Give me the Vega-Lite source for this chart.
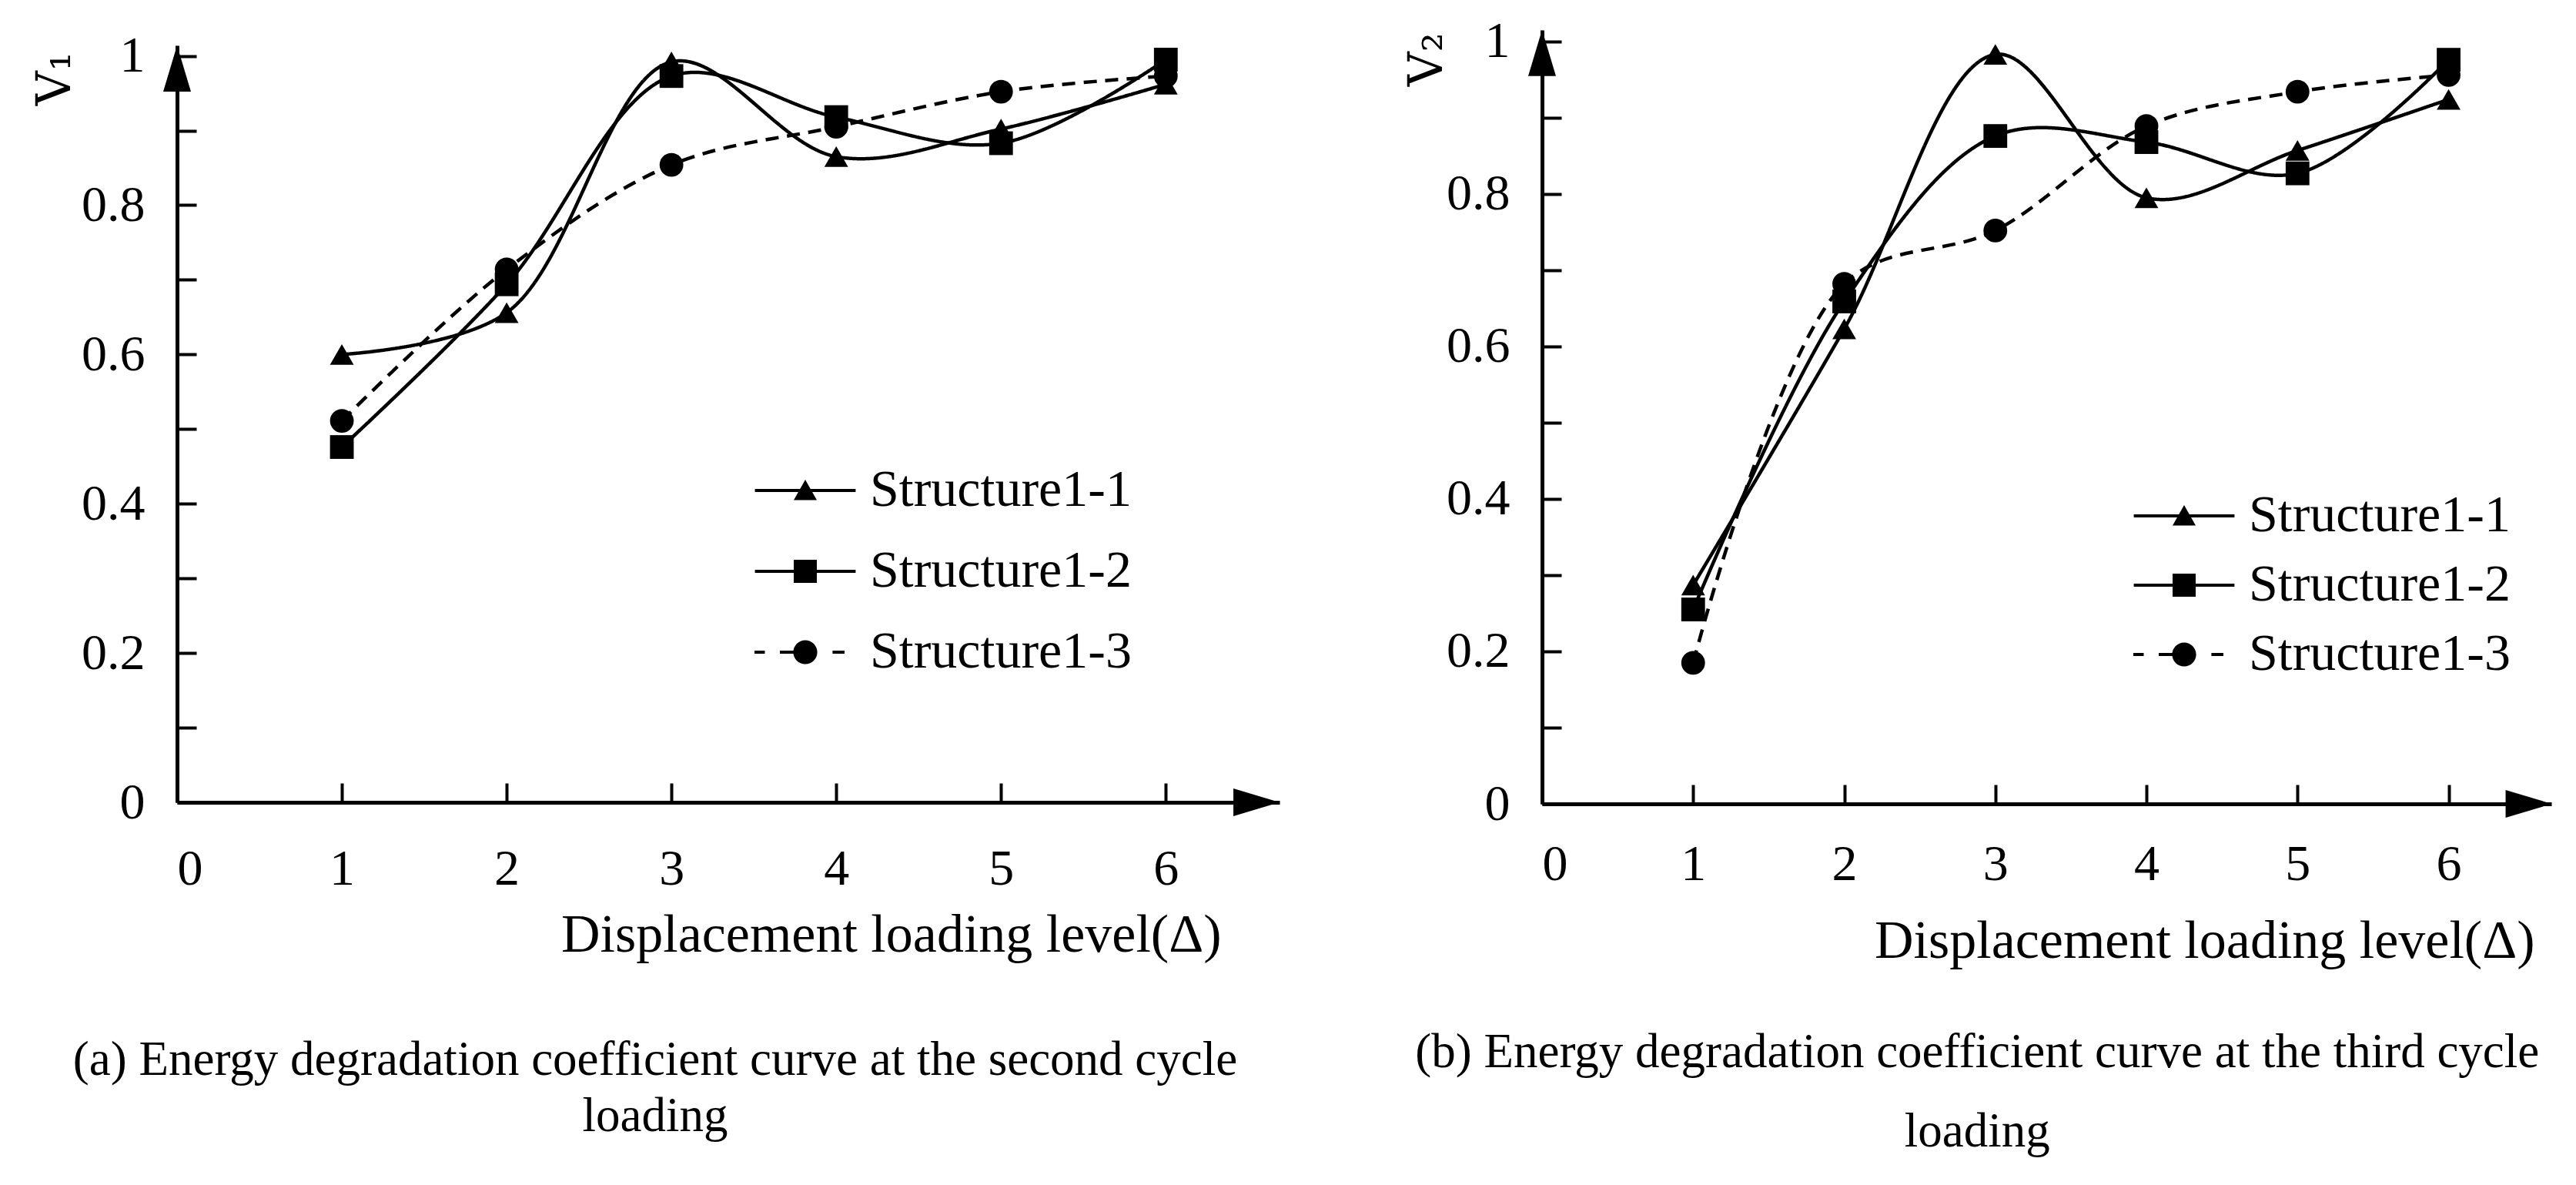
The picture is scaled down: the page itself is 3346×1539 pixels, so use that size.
{
  "$schema": "https://vega.github.io/schema/vega-lite/v6.json",
  "description": "Energy degradation coefficient curves, second and third cycle loading",
  "background": "white",
  "padding": {"left": 40, "top": 20, "right": 10, "bottom": 10},
  "spacing": 159,
  "center": true,
  "config": {
    "font": "Liberation Serif",
    "view": {"stroke": null},
    "axis": {
      "grid": false,
      "domainColor": "black",
      "domainWidth": 5,
      "tickColor": "black",
      "tickWidth": 4,
      "tickSize": -25,
      "labelFont": "Liberation Serif",
      "labelFontSize": 66,
      "labelColor": "black",
      "titleFont": "Liberation Serif",
      "titleFontWeight": "normal",
      "titleColor": "black"
    },
    "axisX": {
      "labelAngle": 0,
      "labelBaseline": "middle",
      "labelPadding": 111,
      "titleFontSize": 70,
      "titleAlign": "right",
      "titleBaseline": "middle"
    },
    "axisY": {
      "labelBaseline": "middle",
      "labelAlign": "right",
      "labelPadding": 67,
      "titleFont": "DejaVu Serif",
      "titleFontSize": 62,
      "titleAngle": -90,
      "titleAlign": "right",
      "titleBaseline": "alphabetic"
    },
    "legend": {
      "title": null,
      "orient": "none",
      "padding": 0,
      "labelFont": "Liberation Serif",
      "labelFontSize": 68,
      "labelColor": "black",
      "labelLimit": 0,
      "labelOffset": 50,
      "symbolSize": 3600,
      "symbolFillColor": "black"
    },
    "title": {
      "font": "Liberation Serif",
      "fontSize": 63,
      "fontWeight": "normal",
      "color": "black",
      "orient": "bottom",
      "anchor": "middle",
      "frame": "bounds"
    }
  },
  "datasets": {
    "second": [
      {"level": 1, "V": 0.600, "structure": "Structure1-1"},
      {"level": 2, "V": 0.656, "structure": "Structure1-1"},
      {"level": 3, "V": 0.992, "structure": "Structure1-1"},
      {"level": 4, "V": 0.865, "structure": "Structure1-1"},
      {"level": 5, "V": 0.902, "structure": "Structure1-1"},
      {"level": 6, "V": 0.962, "structure": "Structure1-1"},
      {"level": 1, "V": 0.476, "structure": "Structure1-2"},
      {"level": 2, "V": 0.694, "structure": "Structure1-2"},
      {"level": 3, "V": 0.973, "structure": "Structure1-2"},
      {"level": 4, "V": 0.918, "structure": "Structure1-2"},
      {"level": 5, "V": 0.883, "structure": "Structure1-2"},
      {"level": 6, "V": 0.995, "structure": "Structure1-2"},
      {"level": 1, "V": 0.511, "structure": "Structure1-3"},
      {"level": 2, "V": 0.714, "structure": "Structure1-3"},
      {"level": 3, "V": 0.854, "structure": "Structure1-3"},
      {"level": 4, "V": 0.905, "structure": "Structure1-3"},
      {"level": 5, "V": 0.952, "structure": "Structure1-3"},
      {"level": 6, "V": 0.973, "structure": "Structure1-3"}
    ],
    "third": [
      {"level": 1, "V": 0.287, "structure": "Structure1-1"},
      {"level": 2, "V": 0.623, "structure": "Structure1-1"},
      {"level": 3, "V": 0.983, "structure": "Structure1-1"},
      {"level": 4, "V": 0.795, "structure": "Structure1-1"},
      {"level": 5, "V": 0.857, "structure": "Structure1-1"},
      {"level": 6, "V": 0.924, "structure": "Structure1-1"},
      {"level": 1, "V": 0.255, "structure": "Structure1-2"},
      {"level": 2, "V": 0.659, "structure": "Structure1-2"},
      {"level": 3, "V": 0.876, "structure": "Structure1-2"},
      {"level": 4, "V": 0.868, "structure": "Structure1-2"},
      {"level": 5, "V": 0.827, "structure": "Structure1-2"},
      {"level": 6, "V": 0.976, "structure": "Structure1-2"},
      {"level": 1, "V": 0.185, "structure": "Structure1-3"},
      {"level": 2, "V": 0.682, "structure": "Structure1-3"},
      {"level": 3, "V": 0.752, "structure": "Structure1-3"},
      {"level": 4, "V": 0.889, "structure": "Structure1-3"},
      {"level": 5, "V": 0.934, "structure": "Structure1-3"},
      {"level": 6, "V": 0.956, "structure": "Structure1-3"}
    ],
    "arrowsA": [
      {"level": 0, "V": 0.983, "dir": "up"},
      {"level": 6.55, "V": 0, "dir": "right"}
    ],
    "arrowsB": [
      {"level": 0, "V": 0.985, "dir": "up"},
      {"level": 6.53, "V": 0, "dir": "right"}
    ]
  },
  "hconcat": [
    {
      "width": 1432,
      "height": 983,
      "title": {
        "text": ["(a) Energy degradation coefficient curve at the second cycle", "loading"],
        "lineHeight": 73,
        "offset": 97
      },
      "encoding": {
        "x": {
          "field": "level",
          "type": "quantitative",
          "scale": {"domain": [0, 6.69], "nice": false, "zero": false},
          "axis": {
            "values": [0, 1, 2, 3, 4, 5, 6],
            "title": "Displacement loading level(Δ)",
            "titleX": 1356,
            "titleY": 172
          }
        },
        "y": {
          "field": "V",
          "type": "quantitative",
          "scale": {"domain": [0, 1.014], "nice": false, "zero": false},
          "axis": {
            "values": [0, 0.1, 0.2, 0.3, 0.4, 0.5, 0.6, 0.7, 0.8, 0.9, 1],
            "labelExpr": "round(datum.value * 10) % 2 == 0 ? toString(round(datum.value * 10) / 10) : ''",
            "title": "V₁",
            "titleX": -140,
            "titleY": 8
          }
        }
      },
      "layer": [
        {
          "data": {"name": "second"},
          "mark": {"type": "line", "interpolate": "catmull-rom", "color": "black", "strokeWidth": 4.5},
          "encoding": {
            "strokeDash": {
              "field": "structure",
              "type": "nominal",
              "scale": {"domain": ["Structure1-1", "Structure1-2", "Structure1-3"], "range": [[1, 0], [1, 0], [17, 11]]},
              "legend": null
            }
          }
        },
        {
          "data": {"name": "second"},
          "mark": {"type": "point", "filled": true, "color": "black", "opacity": 1, "size": 950},
          "encoding": {
            "shape": {
              "field": "structure",
              "type": "nominal",
              "scale": {"domain": ["Structure1-1", "Structure1-2", "Structure1-3"], "range": ["triangle-up", "square", "circle"]},
              "legend": null
            }
          }
        },
        {
          "data": {"name": "second"},
          "transform": [{"filter": "false"}],
          "mark": {"type": "point", "filled": true, "color": "black", "opacity": 1, "size": 3600},
          "encoding": {
            "shape": {
              "field": "structure",
              "type": "nominal",
              "scale": {
                "domain": ["Structure1-1", "Structure1-2", "Structure1-3"],
                "range": [
                  "M-2.18,-0.067H2.18V0.067H-2.18ZM0,-0.47L0.5,0.42L-0.5,0.42Z",
                  "M-2.18,-0.067H2.18V0.067H-2.18ZM-0.5,-0.5H0.5V0.5H-0.5Z",
                  "M-2.2,-0.067H-1.75V0.067H-2.2ZM-1.1,-0.067H-0.45V0.067H-1.1ZM1.18,-0.067H1.7V0.067H1.18ZM-0.52,0A0.52,0.52,0,1,1,0.52,0A0.52,0.52,0,1,1,-0.52,0Z"
                ]
              },
              "legend": {"legendX": 782, "legendY": 544, "rowPadding": 37}
            }
          }
        },
        {
          "data": {"name": "arrowsA"},
          "mark": {"type": "point", "filled": true, "color": "black", "opacity": 1, "size": 3600},
          "encoding": {
            "shape": {
              "field": "dir",
              "type": "nominal",
              "scale": {"domain": ["up", "right"], "range": ["M0,-1L0.6,1L-0.6,1Z", "M1,0L-1,-0.6L-1,0.6Z"]},
              "legend": null
            }
          }
        }
      ],
      "resolve": {"scale": {"shape": "independent"}}
    },
    {
      "width": 1311,
      "height": 1005,
      "title": {
        "text": ["(b) Energy degradation coefficient curve at the third cycle", "loading"],
        "lineHeight": 103,
        "offset": 79
      },
      "encoding": {
        "x": {
          "field": "level",
          "type": "quantitative",
          "scale": {"domain": [0, 6.68], "nice": false, "zero": false},
          "axis": {
            "values": [0, 1, 2, 3, 4, 5, 6],
            "labelPadding": 103,
            "title": "Displacement loading level(Δ)",
            "titleX": 1289,
            "titleY": 178
          }
        },
        "y": {
          "field": "V",
          "type": "quantitative",
          "scale": {"domain": [0, 1.015], "nice": false, "zero": false},
          "axis": {
            "values": [0, 0.1, 0.2, 0.3, 0.4, 0.5, 0.6, 0.7, 0.8, 0.9, 1],
            "labelExpr": "round(datum.value * 10) % 2 == 0 ? toString(round(datum.value * 10) / 10) : ''",
            "title": "V₂",
            "titleX": -131,
            "titleY": 3
          }
        }
      },
      "layer": [
        {
          "data": {"name": "third"},
          "mark": {"type": "line", "interpolate": "catmull-rom", "color": "black", "strokeWidth": 4.5},
          "encoding": {
            "strokeDash": {
              "field": "structure",
              "type": "nominal",
              "scale": {"domain": ["Structure1-1", "Structure1-2", "Structure1-3"], "range": [[1, 0], [1, 0], [17, 11]]},
              "legend": null
            }
          }
        },
        {
          "data": {"name": "third"},
          "mark": {"type": "point", "filled": true, "color": "black", "opacity": 1, "size": 950},
          "encoding": {
            "shape": {
              "field": "structure",
              "type": "nominal",
              "scale": {"domain": ["Structure1-1", "Structure1-2", "Structure1-3"], "range": ["triangle-up", "square", "circle"]},
              "legend": null
            }
          }
        },
        {
          "data": {"name": "third"},
          "transform": [{"filter": "false"}],
          "mark": {"type": "point", "filled": true, "color": "black", "opacity": 1, "size": 3600},
          "encoding": {
            "shape": {
              "field": "structure",
              "type": "nominal",
              "scale": {
                "domain": ["Structure1-1", "Structure1-2", "Structure1-3"],
                "range": [
                  "M-2.18,-0.067H2.18V0.067H-2.18ZM0,-0.47L0.5,0.42L-0.5,0.42Z",
                  "M-2.18,-0.067H2.18V0.067H-2.18ZM-0.5,-0.5H0.5V0.5H-0.5Z",
                  "M-2.2,-0.067H-1.75V0.067H-2.2ZM-1.1,-0.067H-0.45V0.067H-1.1ZM1.18,-0.067H1.7V0.067H1.18ZM-0.52,0A0.52,0.52,0,1,1,0.52,0A0.52,0.52,0,1,1,-0.52,0Z"
                ]
              },
              "legend": {"legendX": 800, "legendY": 597, "rowPadding": 22}
            }
          }
        },
        {
          "data": {"name": "arrowsB"},
          "mark": {"type": "point", "filled": true, "color": "black", "opacity": 1, "size": 3600},
          "encoding": {
            "shape": {
              "field": "dir",
              "type": "nominal",
              "scale": {"domain": ["up", "right"], "range": ["M0,-1L0.6,1L-0.6,1Z", "M1,0L-1,-0.6L-1,0.6Z"]},
              "legend": null
            }
          }
        }
      ],
      "resolve": {"scale": {"shape": "independent"}}
    }
  ]
}
